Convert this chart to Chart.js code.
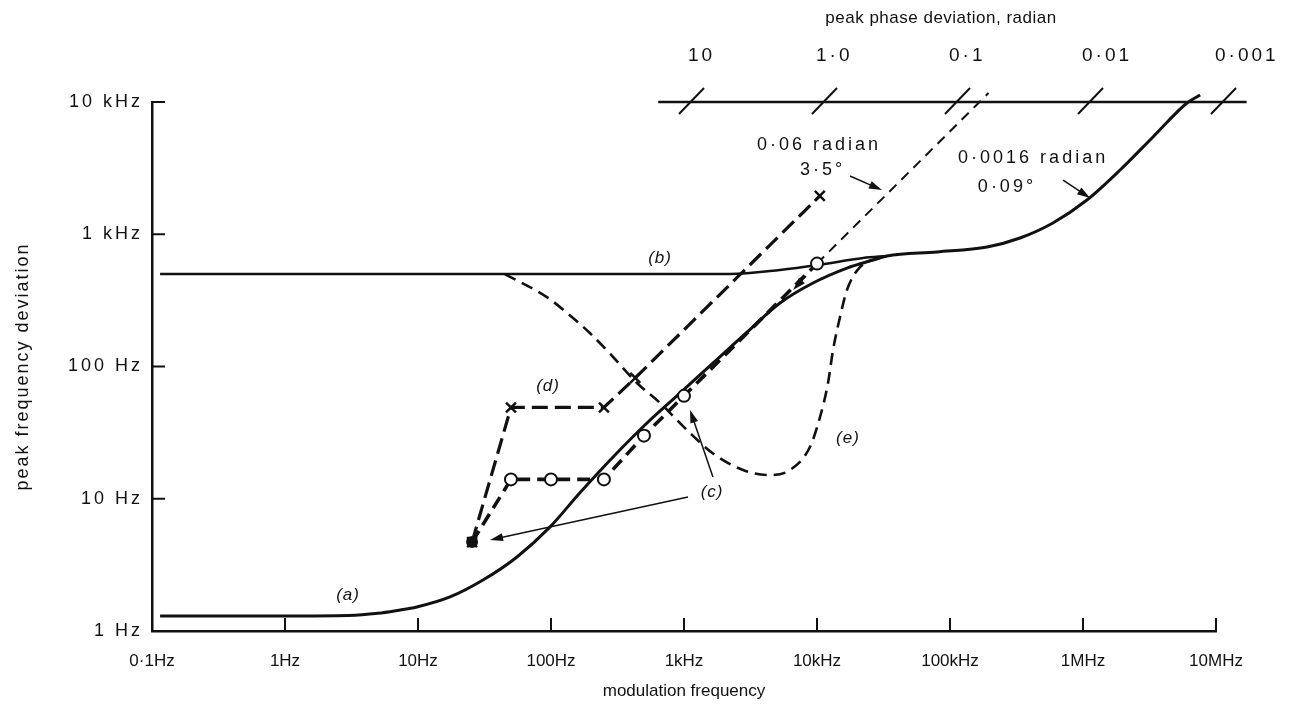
<!DOCTYPE html>
<html>
<head>
<meta charset="utf-8">
<script src="https://cdn.jsdelivr.net/npm/chart.js@4"></script>
<style>
  html, body { margin: 0; background: #fff; }
</style>
</head>
<body>
<canvas id="chart" width="1292" height="708"></canvas>
<script>
// axis ticks
const xTickValues = [0.1, 1, 10, 100, 1e3, 1e4, 1e5, 1e6, 1e7];
const xTickLabels = ["0·1Hz", "1Hz", "10Hz", "100Hz", "1kHz", "10kHz", "100kHz", "1MHz", "10MHz"];
const yTickValues = [1, 10, 100, 1e3, 1e4];
const yTickLabels = ["1 Hz", "10 Hz", "100 Hz", "1 kHz", "10 kHz"];

// top scale: peak phase deviation (radian)
const phaseTicks = [10, 1, 0.1, 0.01, 0.001];
const phaseLabels = ["10", "1·0", "0·1", "0·01", "0·001"];

// (a) solid curve, merges with (b) above ~30 kHz
const aFreq = [0.115, 1, 3, 5, 7, 9.8, 17.4, 30.8, 55.5, 98, 165, 293, 527, 933, 1650, 2980, 5270, 9330, 16800, 26400, 33600, 79800, 190000, 336000, 594000, 1.07e6, 1.9e6, 3.36e6, 6.05e6, 7.6e6];
const aDev = [1.3, 1.3, 1.31, 1.36, 1.43, 1.52, 1.81, 2.43, 3.63, 6.1, 11.1, 20.7, 37.4, 63, 106, 182, 302, 428, 555, 639, 685, 735, 801, 937, 1217, 1815, 3060, 5440, 9820, 11300];

// (b) solid, flat 500 Hz
const bFreq = [0.115, 200, 2220, 5270, 10200, 22200, 33600];
const bDev = [500, 500, 500, 537, 585, 661, 685];

// (c) dashed with circles
const cFreq = [25.5, 50, 100, 250, 500, 1000, 10000];
const cDev = [4.7, 14, 14, 14, 30, 60, 600];

// (d) dashed with crosses
const dFreq = [25.5, 50, 250, 430, 10500];
const dDev = [4.7, 49, 49, 82, 1950];

// (e) dashed dip
const eFreq = [45, 93, 132, 196, 293, 443, 660, 1055, 1652, 2780, 4440, 6270, 8850, 10540, 12100, 13200, 14900, 16800, 21050, 30000];
const eDev = [500, 335, 254, 179, 118, 75, 53, 33, 22, 16.5, 15.1, 16.5, 24.6, 41.5, 75, 133, 237, 379, 565, 665];

// 0.06 radian line
const tFreq = [10000, 195000];
const tDev = [600, 11700];

const curveLabels = [
  ["(a)", 2.98, 1.87],
  ["(b)", 661, 661],
  ["(c)", 1625, 11.2],
  ["(d)", 95, 71],
  ["(e)", 17100, 28.8],
];
const notes = [
  ["0·06 radian", 3540, 4730],
  ["3·5°", 7450, 3060],
  ["0·0016 radian", 115000, 3775],
  ["0·09°", 162000, 2275],
];
// [fromFreq, fromDev, toFreq, toDev]
const arrows = [
  [1650, 14.6, 1110, 46.9],
  [1072, 10.3, 34.8, 4.88],
  [17700, 2755, 30800, 2160],
  [708000, 2570, 1.13e6, 1880],
  [8260, 483, 6610, 379],
];

const ink = "#111";
const family = "'Liberation Sans', Arial, sans-serif";
const pts = (fs, vs) => fs.map((f, i) => ({ x: f, y: vs[i] }));

// wider lettering on the y axis, like the original drawing
function spaceOut(scale, spacing) {
  if (scale._spaced) return;
  scale._spaced = true;
  Object.keys(spacing).forEach((fn) => {
    const orig = scale[fn].bind(scale);
    scale[fn] = (...args) => {
      scale.ctx.save();
      scale.ctx.letterSpacing = spacing[fn];
      orig(...args);
      scale.ctx.restore();
    };
  });
}

const annotate = {
  id: "annotate",
  afterDraw(chart) {
    const { ctx, chartArea: ca, scales: { x, y } } = chart;
    const line = (x1, y1, x2, y2) => { ctx.beginPath(); ctx.moveTo(x1, y1); ctx.lineTo(x2, y2); ctx.stroke(); };
    ctx.save();
    ctx.strokeStyle = ink;
    ctx.fillStyle = ink;

    // inward ticks
    ctx.lineWidth = 2;
    xTickValues.slice(1).forEach((v) => {
      const px = x.getPixelForValue(v);
      line(px, ca.bottom, px, ca.bottom - 13);
    });
    yTickValues.slice(1).forEach((v) => {
      const py = y.getPixelForValue(v);
      line(ca.left, py, ca.left + 13, py);
    });

    // phase deviation scale
    const top = y.getPixelForValue(1e4);
    const x0 = x.getPixelForValue(640), x1 = x.getPixelForValue(1.7e7);
    ctx.lineWidth = 2.5;
    line(x0, top, x1, top);
    ctx.lineWidth = 2;
    ctx.font = `19px ${family}`;
    ctx.letterSpacing = "3px";
    ctx.textAlign = "left";
    ctx.textBaseline = "middle";
    phaseTicks.forEach((p, i) => {
      const px = x.getPixelForValue(1e4 / p) + 7;
      line(px - 12, top + 12, px + 13, top - 14);
      ctx.fillText(phaseLabels[i], px - (i === 0 ? 3 : 8), top - 46);
    });
    ctx.font = `17px ${family}`;
    ctx.letterSpacing = "0.5px";
    ctx.textAlign = "center";
    ctx.fillText("peak phase deviation, radian", 941, 18);

    // curve labels
    ctx.font = `italic 17px ${family}`;
    ctx.letterSpacing = "1px";
    curveLabels.forEach(([t, f, v]) => ctx.fillText(t, x.getPixelForValue(f), y.getPixelForValue(v)));

    ctx.font = `18px ${family}`;
    ctx.letterSpacing = "3px";
    ctx.textAlign = "left";
    notes.forEach(([t, f, v]) => ctx.fillText(t, x.getPixelForValue(f), y.getPixelForValue(v)));
    ctx.letterSpacing = "0px";

    // arrows
    ctx.lineWidth = 1.5;
    arrows.forEach(([f1, v1, f2, v2]) => {
      const ax = x.getPixelForValue(f1), ay = y.getPixelForValue(v1);
      const bx = x.getPixelForValue(f2), by = y.getPixelForValue(v2);
      const ang = Math.atan2(by - ay, bx - ax);
      line(ax, ay, bx - 8 * Math.cos(ang), by - 8 * Math.sin(ang));
      ctx.beginPath();
      ctx.moveTo(bx, by);
      ctx.lineTo(bx - 13 * Math.cos(ang) + 4 * Math.sin(ang), by - 13 * Math.sin(ang) - 4 * Math.cos(ang));
      ctx.lineTo(bx - 13 * Math.cos(ang) - 4 * Math.sin(ang), by - 13 * Math.sin(ang) + 4 * Math.cos(ang));
      ctx.closePath();
      ctx.fill();
    });
    ctx.restore();
  },
};

const base = { fill: false, pointRadius: 0, borderColor: ink, clip: false };
const datasets = [
  { ...base, label: "a", data: pts(aFreq, aDev), borderWidth: 3, cubicInterpolationMode: "monotone", order: 5 },
  { ...base, label: "b", data: pts(bFreq, bDev), borderWidth: 2.5, cubicInterpolationMode: "monotone", order: 6 },
  { ...base, label: "e", data: pts(eFreq, eDev), borderWidth: 2.6, borderDash: [12, 7], cubicInterpolationMode: "monotone", order: 4 },
  { ...base, label: "t", data: pts(tFreq, tDev), borderWidth: 2, borderDash: [10, 7], order: 7 },
  {
    ...base, label: "d", data: pts(dFreq, dDev), borderWidth: 3.2, borderDash: [16, 7],
    pointStyle: "crossRot", pointRadius: 7, pointBorderWidth: 2.5, pointBorderColor: ink, order: 2,
  },
  {
    ...base, label: "c", data: pts(cFreq, cDev), borderWidth: 3.6, borderDash: [13, 7],
    pointStyle: "circle", pointRadius: (c) => (c.dataIndex === 0 ? 5 : 6),
    pointBackgroundColor: (c) => (c.dataIndex === 0 ? ink : "#fff"),
    pointBorderColor: ink, pointBorderWidth: 2, order: 3,
  },
];

new Chart(document.getElementById("chart"), {
  type: "line",
  data: { datasets },
  options: {
    responsive: false,
    animation: false,
    events: [],
    layout: { padding: { left: 0, right: 76, top: 102, bottom: 0 } },
    plugins: { legend: { display: false }, tooltip: { enabled: false } },
    scales: {
      x: {
        type: "logarithmic",
        min: 0.1,
        max: 1e7,
        afterBuildTicks: (s) => { s.ticks = xTickValues.map((v) => ({ value: v })); },
        afterFit: (s) => { s.height = 77; },
        ticks: {
          autoSkip: false, maxRotation: 0, padding: 20, color: ink,
          font: { family, size: 17 },
          callback: (v, i) => xTickLabels[i],
        },
        grid: { display: true, drawOnChartArea: false, drawTicks: false },
        border: { display: true, color: ink, width: 2.5 },
        title: { display: true, text: "modulation frequency", color: ink, font: { family, size: 17 }, padding: { top: 0, bottom: 6 } },
      },
      y: {
        type: "logarithmic",
        min: 1,
        max: 1e4,
        afterBuildTicks: (s) => { s.ticks = yTickValues.map((v) => ({ value: v })); },
        afterFit: (s) => { s.width = 152; spaceOut(s, { drawLabels: "3px", drawTitle: "2px" }); },
        ticks: {
          autoSkip: false, padding: 9, color: ink,
          font: { family, size: 18 },
          callback: (v, i) => yTickLabels[i],
        },
        grid: { display: true, drawOnChartArea: false, drawTicks: false },
        border: { display: true, color: ink, width: 2.5 },
        title: { display: true, text: "peak frequency deviation", color: ink, font: { family, size: 18 }, padding: { top: 12, bottom: 0 } },
      },
    },
  },
  plugins: [annotate],
});
</script>
</body>
</html>
